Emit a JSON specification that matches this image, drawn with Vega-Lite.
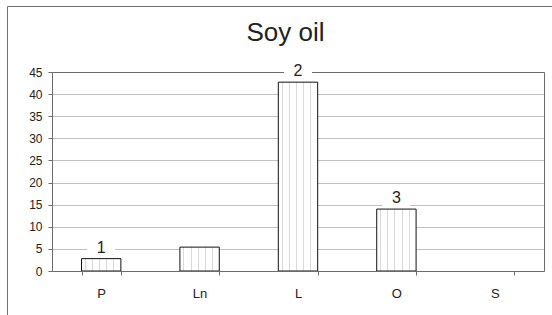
{
  "$schema": "https://vega.github.io/schema/vega-lite/v6.json",
  "width": 545,
  "height": 309,
  "autosize": {"type": "none"},
  "padding": {"left": 7, "top": 6, "right": 0, "bottom": 0},
  "background": "white",
  "config": {"view": {"stroke": "#707070", "strokeWidth": 1}, "font": "Liberation Sans"},
  "title": {"text": "Soy oil", "fontSize": 26, "fontWeight": "normal", "color": "#222222", "font": "Liberation Sans", "baseline": "alphabetic", "offset": -61, "dx": 6, "anchor": "middle"},
  "data": {"values": [
    {"acid": "P", "value": 2.8, "label": "1"},
    {"acid": "Ln", "value": 5.4, "label": ""},
    {"acid": "L", "value": 42.7, "label": "2"},
    {"acid": "O", "value": 14.0, "label": "3"},
    {"acid": "S", "value": null, "label": ""}
  ]},
  "resolve": {"axis": {"x": "independent", "y": "independent"}},
  "layer": [
    {
      "mark": {"type": "bar", "stroke": "#111111", "strokeWidth": 1,
        "color": {"gradient": "linear", "x1": 0, "x2": 1, "y1": 0, "y2": 0, "stops": [
          {"offset": 0, "color": "#ffffff"},
          {"offset": 0.09, "color": "#ffffff"}, {"offset": 0.09, "color": "#dadada"}, {"offset": 0.115, "color": "#dadada"}, {"offset": 0.115, "color": "#ffffff"},
          {"offset": 0.27, "color": "#ffffff"}, {"offset": 0.27, "color": "#dadada"}, {"offset": 0.295, "color": "#dadada"}, {"offset": 0.295, "color": "#ffffff"},
          {"offset": 0.45, "color": "#ffffff"}, {"offset": 0.45, "color": "#dadada"}, {"offset": 0.475, "color": "#dadada"}, {"offset": 0.475, "color": "#ffffff"},
          {"offset": 0.63, "color": "#ffffff"}, {"offset": 0.63, "color": "#dadada"}, {"offset": 0.655, "color": "#dadada"}, {"offset": 0.655, "color": "#ffffff"},
          {"offset": 0.81, "color": "#ffffff"}, {"offset": 0.81, "color": "#dadada"}, {"offset": 0.835, "color": "#dadada"}, {"offset": 0.835, "color": "#ffffff"},
          {"offset": 1, "color": "#ffffff"}
        ]}},
      "encoding": {
        "x": {"field": "acid", "type": "nominal", "sort": ["P", "Ln", "L", "O", "S"],
          "scale": {"domain": ["P", "Ln", "L", "O", "S"], "range": [45, 537], "paddingInner": 0.6, "paddingOuter": 0.3},
          "axis": {"orient": "bottom", "offset": -44, "tickBand": "extent", "tickSize": 4, "labelPadding": 12, "labelAngle": 0, "title": null, "grid": false, "domainColor": "#6b6b6b", "tickColor": "#6b6b6b", "labelFontSize": 13, "labelColor": "#222222", "labelFont": "Liberation Sans", "zindex": 1}},
        "y": {"field": "value", "type": "quantitative",
          "scale": {"domain": [0, 45], "range": [265, 66], "nice": false, "zero": true},
          "axis": {"orient": "left", "offset": -45, "values": [0, 5, 10, 15, 20, 25, 30, 35, 40, 45], "grid": true, "gridColor": "#c0c0c0", "domainColor": "#6b6b6b", "tickColor": "#6b6b6b", "tickSize": 4, "labelPadding": 6, "labelFontSize": 12, "labelColor": "#222222", "labelFont": "Liberation Sans", "title": null, "zindex": 0}}
      }
    },
    {
      "transform": [{"filter": "datum.label != ''"}],
      "mark": {"type": "point", "shape": "M-1.4,-0.8H1.4V0.8H-1.4Z", "size": 400, "filled": true, "fill": "white", "opacity": 1, "strokeWidth": 0, "yOffset": -11},
      "encoding": {
        "x": {"field": "acid", "type": "nominal", "sort": ["P", "Ln", "L", "O", "S"],
          "axis": {"orient": "top", "offset": -66, "ticks": false, "labels": false, "grid": false, "title": null, "domainColor": "#6b6b6b", "zindex": 0}},
        "y": {"field": "value", "type": "quantitative",
          "axis": {"orient": "right", "offset": -8, "ticks": false, "labels": false, "grid": false, "title": null, "domainColor": "#6b6b6b", "zindex": 0}}
      }
    },
    {
      "transform": [{"filter": "datum.label != ''"}],
      "mark": {"type": "text", "fontSize": 16, "yOffset": -11, "baseline": "middle", "color": "#222222", "font": "Liberation Sans"},
      "encoding": {
        "x": {"field": "acid", "type": "nominal", "sort": ["P", "Ln", "L", "O", "S"], "axis": null},
        "y": {"field": "value", "type": "quantitative", "axis": null},
        "text": {"field": "label"}
      }
    }
  ]
}
